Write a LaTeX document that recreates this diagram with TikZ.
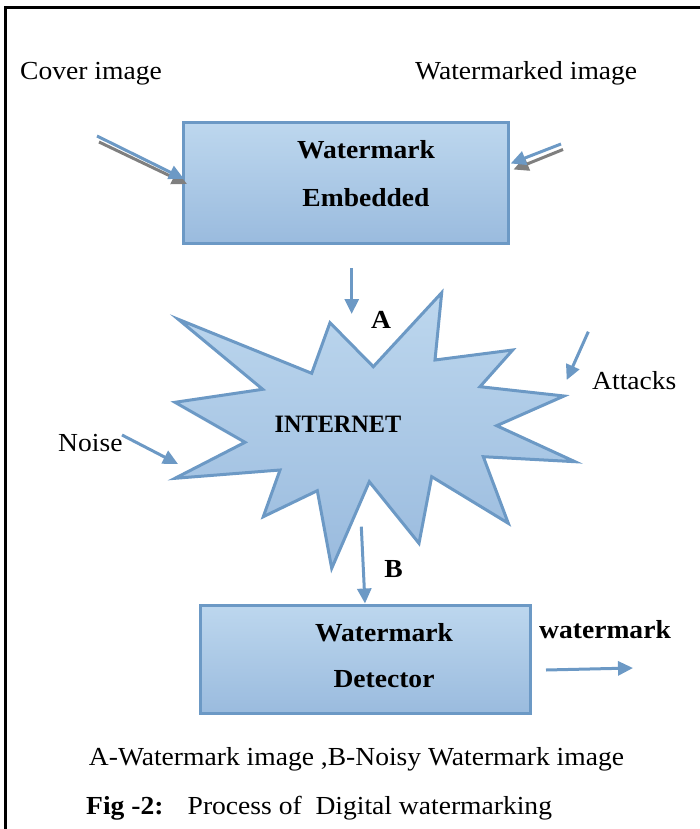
\documentclass[tikz,border=0pt]{standalone}
\usepackage{fontspec}
\setmainfont[FakeStretch=1.06]{Liberation Serif}
\newfontfamily\netfont[FakeStretch=0.97]{Liberation Serif}
\usetikzlibrary{arrows.meta}
\definecolor{boxtop}{HTML}{BDD7EE}
\definecolor{boxbot}{HTML}{9ABBDE}
\definecolor{edgeblue}{HTML}{6C99C5}
\definecolor{shadowgray}{HTML}{7F7F7F}
\tikzset{
  frame/.style={line width=3pt, black},
  procbox/.style={draw=edgeblue, line width=3pt, top color=boxtop, bottom color=boxbot, rectangle, inner sep=0pt},
  burst/.style={draw=edgeblue, line width=3pt, top color=boxtop, bottom color=boxbot, line join=miter},
  flow/.style={draw=edgeblue, line width=3pt, -{Triangle[length=15pt,width=14pt]}},
  shadowflow/.style={draw=shadowgray, line width=3pt, -{Triangle[length=15pt,width=14pt]}},
  txt/.style={inner sep=0pt, font=\fontsize{26}{30}\selectfont, anchor=base},
  btxt/.style={inner sep=0pt, font=\fontsize{26}{30}\selectfont\bfseries, anchor=base}
}
\begin{document}
\begin{tikzpicture}[x=1pt,y=-1pt]
\useasboundingbox (0,0) rectangle (700,829);
% frame
\draw[frame] (5,829) -- (5,8) -- (700,8);

% boxes
\node[procbox, minimum width=325pt, minimum height=120pt] (emb) at (345.5,183) {};
\node[procbox, minimum width=330pt, minimum height=108pt] (det) at (365,659) {};
\node[btxt] (embt1) at (366,158.3) {Watermark};
\node[btxt] (embt2) at (366,206) {Embedded};
\node[btxt] (dett1) at (384,641) {Watermark};
\node[btxt] (dett2) at (384,687) {Detector};

% internet burst
\path[burst] (178.3,319.3) -- (311.7,373.3) -- (330,322.7) -- (373.3,366.7)
  -- (441.7,292.7) -- (435,360) -- (512.7,350) -- (480,386.7) -- (564,396)
  -- (496.7,425.7) -- (575,461.7) -- (483.3,456.7) -- (508.3,523.3)
  -- (431.7,476.7) -- (419,543.3) -- (369.3,481.7) -- (331.7,568.3)
  -- (317.3,490.7) -- (263.3,516.7) -- (280,470) -- (175,478.3)
  -- (245,442.3) -- (175,402.3) -- (262.7,389.3) -- cycle;
\node[inner sep=0pt, font=\netfont\fontsize{25}{28}\selectfont\bfseries, anchor=base] (net) at (338,432.3) {INTERNET};

% texts
\node[txt, anchor=base west] (cover) at (20,79.3) {Cover image};
\node[txt, anchor=base west] (wmimg) at (415,79.3) {Watermarked image};
\node[btxt] (la) at (381,328.3) {A};
\node[btxt] (lb) at (393.5,577.7) {B};
\node[txt, anchor=base west] (att) at (592,389) {Attacks};
\node[txt, anchor=base west] (noise) at (58,451) {Noise};
\node[btxt, anchor=base west] (wmout) at (539,638.3) {watermark};
\node[txt] (cap1) at (356.5,765) {A-Watermark image ,B-Noisy Watermark image};
\node[btxt, anchor=base west] (fig) at (86,814) {Fig -2:};
\node[txt, anchor=base west] (cap2) at (187.5,814) {Process of\ \ Digital watermarking};

% coordinates for arrow ends
\coordinate (cs1) at (99,142);   \coordinate (ce1) at (187,184);
\coordinate (cs2) at (97,136);   \coordinate (ce2) at (184,179);
\coordinate (ws1) at (563,149.5); \coordinate (we1) at (513.5,169.5);
\coordinate (ws2) at (561,144);   \coordinate (we2) at (510.7,163.5);
\coordinate (as) at (351.7,268); \coordinate (ae) at (351.7,314);
\coordinate (ts) at (588.3,331.7); \coordinate (te) at (566.7,380);
\coordinate (ns) at (122,435); \coordinate (ne) at (178,464);
\coordinate (bs) at (361.3,526.7);
\coordinate (os) at (546,670); \coordinate (oe) at (633,668);

% arrows
\draw[shadowflow] (cs1) -- (ce1);
\draw[flow] (cs2) -- (ce2);
\draw[shadowflow] (ws1) -- (we1);
\draw[flow] (ws2) -- (we2);
\draw[flow] (as) -- (ae);
\draw[flow] (ts) -- (te);
\draw[flow] (ns) -- (ne);
\draw[flow] (bs) -- (det.north);
\draw[flow] (os) -- (oe);
\end{tikzpicture}
\end{document}
